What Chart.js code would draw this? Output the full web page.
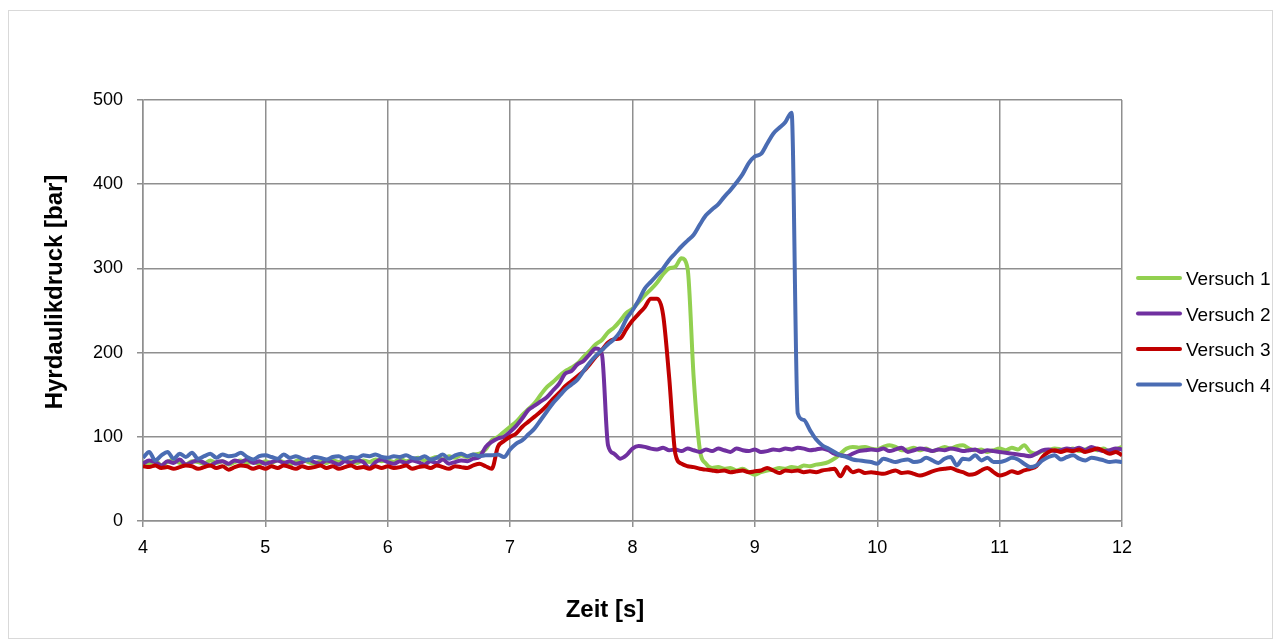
<!DOCTYPE html>
<html>
<head>
<meta charset="utf-8">
<script src="https://cdn.jsdelivr.net/npm/chart.js@4/dist/chart.umd.min.js"></script>
<style>
  html, body { margin: 0; padding: 0; background: #fff; }
  #frame { position: absolute; left: 8px; top: 10px; width: 1263px; height: 627px; border: 1px solid #d9d9d9; }
  #wrap { position: absolute; left: 0; top: 0; width: 1279px; height: 642px; }
</style>
</head>
<body>
<div id="frame"></div>
<div id="wrap"><canvas id="chart" width="1279" height="642"></canvas></div>
<script>
// time axis, 4 s to 12 s in 0.05 s steps
const time = [];
for (let i = 0; i <= 160; i++) time.push(+(4 + i * 0.05).toFixed(2));

const seriesNames = ['Versuch 1', 'Versuch 2', 'Versuch 3', 'Versuch 4'];
const seriesColors = ['#92d050', '#7030a0', '#c00000', '#4a6cb3'];

// pressure values [bar]
const versuch1 = [
  70, 68, 72, 66, 70, 73, 69, 67, 71, 70, 68, 72, 69, 71, 67, 70, 72, 69, 70, 68,
  71, 69, 72, 70, 67, 71, 73, 70, 68, 71, 69, 72, 70, 74, 71, 69, 72, 70, 73, 71,
  72, 70, 74, 71, 73, 75, 72, 74, 76, 73, 77, 75, 78, 76, 79, 80, 85, 96, 100, 106,
  112, 118, 126, 133, 140, 150, 159, 165, 172, 178, 182, 187, 195, 202, 210, 215, 224, 230, 238, 247,
  252, 260, 268, 275, 283, 293, 300, 302, 312, 300, 170, 85, 68, 63, 64, 62, 63, 60, 62, 58,
  55, 58, 60, 61, 63, 62, 64, 63, 66, 65, 67, 68, 70, 74, 80, 86, 88, 87, 88, 86,
  85, 88, 90, 88, 84, 85, 87, 84, 86, 83, 85, 88, 86, 89, 90, 86, 84, 85, 82, 84,
  86, 84, 87, 85, 90, 82, 80, 83, 84, 86, 85, 84, 86, 83, 85, 87, 84, 86, 82, 85,
  88
];
const versuch2 = [
  68, 72, 70, 66, 71, 69, 73, 67, 70, 72, 69, 66, 70, 71, 68, 72, 70, 73, 69, 71,
  68, 70, 72, 69, 71, 68, 70, 73, 70, 68, 72, 70, 67, 71, 69, 72, 70, 63, 70, 73,
  70, 68, 71, 69, 72, 70, 67, 71, 69, 73, 68, 70, 72, 71, 74, 76, 88, 94, 98, 100,
  106, 113, 122, 132, 137, 142, 147, 155, 163, 175, 178, 186, 190, 198, 205, 198, 90, 80, 74, 78,
  86, 89, 88, 86, 85, 87, 84, 85, 83, 86, 84, 82, 85, 83, 86, 84, 82, 86, 84, 83,
  85, 82, 83, 85, 84, 86, 85, 87, 86, 84, 85, 86, 84, 80, 78, 77, 80, 83, 84, 85,
  84, 86, 83, 85, 87, 82, 84, 86, 85, 83, 85, 84, 86, 85, 83, 84, 85, 82, 84, 83,
  82, 81, 80, 79, 78, 77, 80, 84, 85, 83, 84, 86, 85, 87, 84, 88, 85, 83, 84, 86,
  85
];
const versuch3 = [
  65, 64, 66, 63, 64, 62, 64, 66, 65, 62, 64, 66, 63, 65, 61, 64, 66, 65, 62, 64,
  62, 65, 63, 66, 64, 62, 65, 63, 64, 66, 63, 65, 62, 64, 66, 63, 64, 62, 65, 63,
  65, 63, 64, 66, 62, 64, 65, 63, 66, 64, 62, 65, 64, 63, 66, 68, 65, 62, 88, 95,
  100, 104, 112, 118, 124, 130, 137, 145, 152, 160, 166, 172, 178, 186, 195, 203, 212, 216, 217, 228,
  238, 246, 254, 264, 264, 245, 170, 80, 68, 65, 64, 62, 61, 60, 59, 60, 58, 59, 60, 58,
  59, 60, 63, 60, 57, 60, 59, 60, 58, 59, 58, 60, 61, 62, 53, 64, 58, 60, 57, 58,
  57, 56, 58, 60, 57, 58, 56, 54, 56, 59, 61, 62, 63, 60, 58, 55, 56, 60, 63, 58,
  54, 56, 59, 57, 60, 62, 65, 76, 82, 84, 82, 84, 83, 85, 82, 84, 86, 83, 80, 82,
  78
];
const versuch4 = [
  75, 82, 72, 78, 82, 74, 80, 76, 81, 74, 77, 80, 75, 79, 77, 78, 81, 76, 73, 77,
  78, 76, 74, 79, 75, 77, 74, 72, 76, 75, 73, 76, 77, 74, 76, 75, 78, 77, 79, 76,
  75, 77, 76, 78, 75, 74, 77, 73, 75, 79, 74, 78, 80, 77, 79, 77, 78, 78, 79, 76,
  85, 92, 96, 103, 110, 120, 130, 140, 148, 156, 162, 168, 178, 188, 196, 203, 210, 216, 225, 240,
  250, 262, 276, 284, 292, 300, 310, 318, 326, 333, 340, 352, 363, 370, 376, 385, 393, 402, 412, 425,
  433, 436, 448, 460, 467, 474, 485, 128, 120, 108, 97, 90, 86, 82, 78, 76, 73, 72, 71, 70,
  68, 74, 72, 70, 72, 73, 70, 71, 75, 72, 69, 74, 76, 66, 74, 73, 78, 72, 75, 70,
  70, 72, 75, 73, 68, 64, 66, 72, 76, 78, 73, 76, 78, 74, 72, 75, 74, 72, 70, 71,
  70
];
const allSeries = [versuch1, versuch2, versuch3, versuch4];

const FONT = "'Liberation Sans', Arial, sans-serif";
const gridColor = '#8f8f8f';

// legend on the right, like the Excel original
const legendPlugin = {
  id: 'sideLegend',
  afterDraw(chart) {
    const c = chart.ctx;
    c.save();
    c.font = '19px ' + FONT;
    c.textBaseline = 'middle';
    c.fillStyle = '#000';
    chart.data.datasets.forEach((ds, i) => {
      const y = 278 + i * 35.5;
      c.strokeStyle = ds.borderColor;
      c.lineWidth = 4;
      c.lineCap = 'round';
      c.beginPath();
      c.moveTo(1138, y);
      c.lineTo(1180, y);
      c.stroke();
      c.fillText(ds.label, 1186, y + 2);
    });
    c.restore();
  }
};

// axis titles, placed where Excel put them
const titlePlugin = {
  id: 'axisTitles',
  afterDraw(chart) {
    const c = chart.ctx;
    c.save();
    c.fillStyle = '#000';
    c.font = 'bold 24px ' + FONT;
    c.textAlign = 'center';
    c.textBaseline = 'alphabetic';
    c.fillText('Zeit [s]', 605, 617);
    c.translate(62, 292);
    c.rotate(-Math.PI / 2);
    c.fillText('Hyrdaulikdruck [bar]', 0, 0);
    c.restore();
  }
};

const ctx = document.getElementById('chart').getContext('2d');
new Chart(ctx, {
  type: 'line',
  data: {
    labels: time,
    datasets: allSeries.map((vals, i) => ({
      label: seriesNames[i],
      data: vals,
      borderColor: seriesColors[i],
      backgroundColor: seriesColors[i],
      borderWidth: 4,
      pointRadius: 0,
      cubicInterpolationMode: 'monotone',
      order: 4 - i
    }))
  },
  options: {
    responsive: false,
    animation: false,
    layout: { padding: { left: 83, top: 100, right: 157, bottom: 41 } },
    plugins: { legend: { display: false }, tooltip: { enabled: false } },
    scales: {
      x: {
        type: 'linear',
        min: 4,
        max: 12,
        afterFit: (s) => { s.height = 80; },
        ticks: { stepSize: 1, color: '#000', font: { family: FONT, size: 18 }, padding: 10, maxRotation: 0 },
        grid: { color: gridColor, lineWidth: 1.5, tickLength: 6 },
        border: { color: gridColor, width: 1.5 }
      },
      y: {
        min: 0,
        max: 500,
        afterFit: (s) => { s.width = 60; },
        ticks: { stepSize: 100, color: '#000', font: { family: FONT, size: 18 }, padding: 14 },
        grid: { color: gridColor, lineWidth: 1.5, tickLength: 6 },
        border: { color: gridColor, width: 1.5 }
      }
    }
  },
  plugins: [legendPlugin, titlePlugin]
});
</script>
</body>
</html>
